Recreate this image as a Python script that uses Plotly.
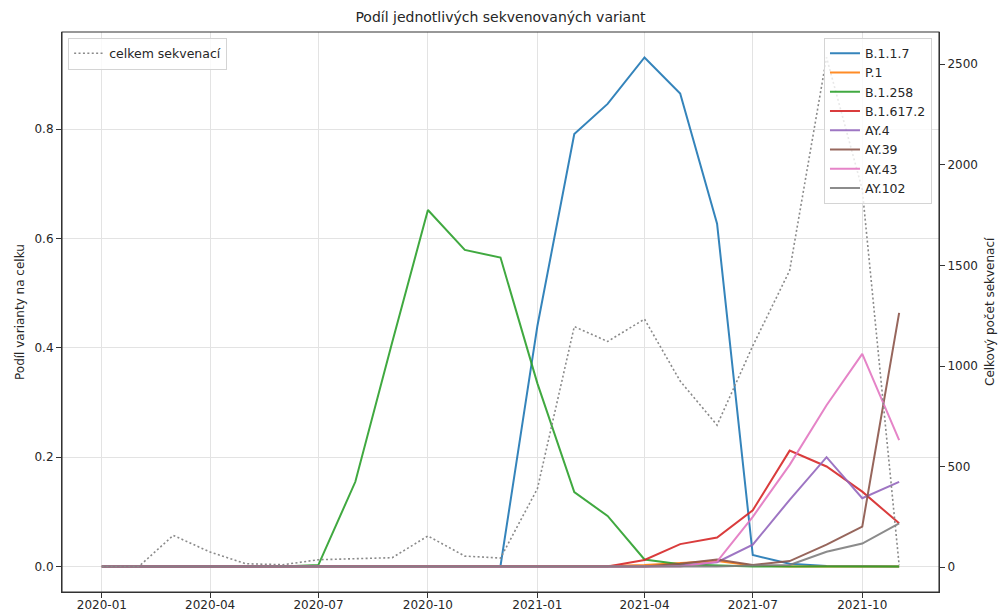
import pandas as pd
import plotly.graph_objects as go

# Monthly sequencing shares per variant (Czech data), 2020-01 .. 2021-11
months = pd.date_range("2020-01-01", "2021-11-01", freq="MS")

b117 = [0, 0, 0, 0, 0, 0, 0, 0, 0, 0, 0, 0.001,
        0.44, 0.791, 0.846, 0.931, 0.865, 0.627, 0.021, 0.005, 0.001, 0, 0]
p1 = [0, 0, 0, 0, 0, 0, 0, 0, 0, 0, 0, 0,
      0, 0, 0.001, 0.003, 0.006, 0.01, 0.002, 0, 0, 0, 0]
b1258 = [0, 0, 0, 0, 0, 0, 0.003, 0.155, 0.41, 0.652, 0.579, 0.565,
         0.335, 0.136, 0.0925, 0.013, 0.004, 0.002, 0, 0, 0, 0, 0]
b16172 = [0, 0, 0, 0, 0, 0, 0, 0, 0, 0, 0, 0,
          0, 0, 0, 0.012, 0.041, 0.053, 0.103, 0.212, 0.183, 0.137, 0.079]
ay4 = [0, 0, 0, 0, 0, 0, 0, 0, 0, 0, 0, 0,
       0, 0, 0, 0, 0.002, 0.008, 0.04, 0.122, 0.2, 0.125, 0.155]
ay39 = [0, 0, 0, 0, 0, 0, 0, 0, 0, 0, 0, 0,
        0, 0, 0, 0, 0.005, 0.013, 0.003, 0.01, 0.04, 0.073, 0.464]
ay43 = [0, 0, 0, 0, 0, 0, 0, 0, 0, 0, 0, 0,
        0, 0, 0, 0, 0, 0.009, 0.091, 0.186, 0.295, 0.389, 0.231]
ay102 = [0, 0, 0, 0, 0, 0, 0, 0, 0, 0, 0, 0,
         0, 0, 0, 0, 0, 0, 0.002, 0.003, 0.027, 0.042, 0.079]

# Total number of sequenced samples per month
total = [3, 3, 158, 75, 17, 12, 37, 42, 47, 155, 55, 45,
         390, 1196, 1122, 1233, 925, 706, 1100, 1475, 2534, 1878, 10]

variant_names = ["B.1.1.7", "P.1", "B.1.258", "B.1.617.2", "AY.4", "AY.39", "AY.43", "AY.102"]
variant_series = [b117, p1, b1258, b16172, ay4, ay39, ay43, ay102]
colors = ["#1f77b4", "#ff7f0e", "#2ca02c", "#d62728",
          "#9467bd", "#8c564b", "#e377c2", "#7f7f7f"]

FONT = "DejaVu Sans"
TXT = "#262626"
W, H = 999, 613
M = dict(l=62, r=60, t=32, b=21)

fig = go.Figure()

for name, vals, col in zip(variant_names, variant_series, colors):
    fig.add_trace(go.Scatter(
        x=months, y=vals, name=name, mode="lines",
        line=dict(color=col, width=2), opacity=0.9,
        legend="legend", yaxis="y",
    ))

fig.add_trace(go.Scatter(
    x=months, y=total, name="celkem sekvenací", mode="lines",
    line=dict(color="#8a8a8a", width=1.6, dash="2px,2.4px"),
    legend="legend2", yaxis="y2",
))

# autoscale with 5 % padding on each side
def padded(lo, hi, frac=0.05):
    span = hi - lo
    return [lo - frac * span, hi + frac * span]

all_share = [v for s in variant_series for v in s]
y_range = padded(min(all_share), max(all_share))
y2_range = padded(min(total), max(total))
x_pad = (months[-1] - months[0]) * 0.05
x_range = [months[0] - x_pad, months[-1] + x_pad]

axis_common = dict(
    showline=True, linecolor="#333333", linewidth=1.1, mirror=False,
    ticks="outside", ticklen=5, tickwidth=1, tickcolor="#333333",
    tickfont=dict(family=FONT, size=12, color=TXT),
    zeroline=False, automargin=False,
)

fig.update_layout(
    width=W, height=H,
    margin=M,
    paper_bgcolor="white", plot_bgcolor="white",
    font=dict(family=FONT, size=12, color=TXT),
    title=dict(text="Podíl jednotlivých sekvenovaných variant",
               x=0.5, xanchor="center", xref="paper",
               y=1 - 17.5 / H, yanchor="middle",
               font=dict(family=FONT, size=14, color=TXT)),
    xaxis=dict(
        **axis_common, range=x_range, type="date",
        tick0="2020-01-01", dtick="M3", tickformat="%Y-%m",
        showgrid=True, gridcolor="#e3e3e3", gridwidth=1,
        ticklabelstandoff=-3,
    ),
    yaxis=dict(
        **axis_common, range=y_range, tick0=0, dtick=0.2, tickformat=".1f",
        showgrid=True, gridcolor="#e3e3e3", gridwidth=1,
    ),
    yaxis2=dict(
        **axis_common, range=y2_range, overlaying="y", side="right",
        tick0=0, dtick=500, showgrid=False,
    ),
    legend=dict(
        x=0.992, y=0.99, xanchor="right", yanchor="top",
        bgcolor="rgba(255,255,255,0.8)", bordercolor="#d4d4d4", borderwidth=1,
        font=dict(family=FONT, size=12.5, color=TXT),
        tracegroupgap=0,
    ),
    legend2=dict(
        x=0.007, y=0.99, xanchor="left", yanchor="top",
        bgcolor="rgba(255,255,255,0.8)", bordercolor="#d4d4d4", borderwidth=1,
        font=dict(family=FONT, size=12.5, color=TXT),
    ),
    showlegend=True,
)

# y-axis titles, placed at fixed pixel offsets outside the plot frame
fig.add_annotation(text="Podíl varianty na celku", textangle=-90,
                   xref="paper", yref="paper", x=0, y=0.5,
                   xanchor="center", yanchor="middle", xshift=-(M["l"] - 20),
                   showarrow=False, font=dict(family=FONT, size=12, color=TXT))
fig.add_annotation(text="Celkový počet sekvenací", textangle=-90,
                   xref="paper", yref="paper", x=1, y=0.5,
                   xanchor="center", yanchor="middle",
                   xshift=(W - M["r"] - (W - M["l"] - M["r"]) - M["l"]) + 51,
                   showarrow=False, font=dict(family=FONT, size=12, color=TXT))

# close the frame on top and on the right like a boxed axes
fig.add_shape(type="rect", xref="paper", yref="paper", x0=0, y0=0, x1=1, y1=1,
              line=dict(color="#333333", width=1.1), fillcolor="rgba(0,0,0,0)",
              layer="above")

fig.write_html("out.html")
